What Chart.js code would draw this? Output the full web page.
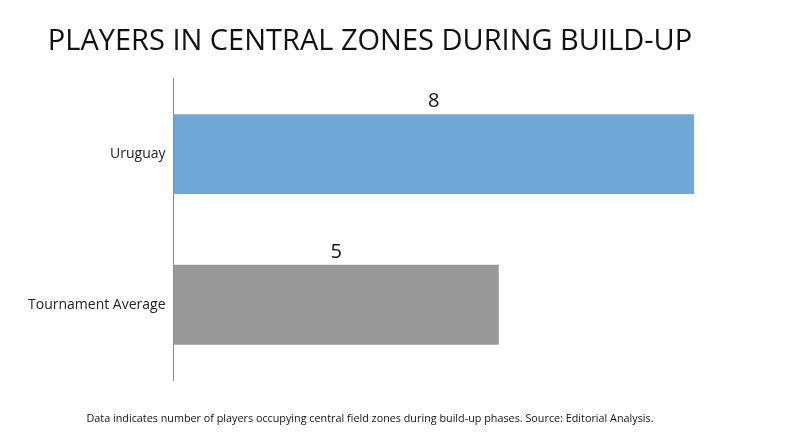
<!DOCTYPE html>
<html><head><meta charset="utf-8">
<script src="https://cdn.jsdelivr.net/npm/chart.js@4/dist/chart.umd.min.js"></script>
<style>html,body{margin:0;padding:0;background:#fff;overflow:hidden}canvas{display:block}</style>
</head><body><canvas id="c" width="800" height="447" style="width:800px;height:447px"></canvas>
<script>
const categories = ["Uruguay", "Tournament Average"];
const values = [8, 5];
const colors = ["#6fa8d6", "#999999"];
const titleText = "PLAYERS IN CENTRAL ZONES DURING BUILD-UP";
const footText = "Data indicates number of players occupying central field zones during build-up phases. Source: Editorial Analysis.";

const labelPlugin = {
  id: 'lbl',
  afterDatasetsDraw(chart) {
    const ctx = chart.ctx;
    const meta = chart.getDatasetMeta(0);
    ctx.save();
    ctx.font = '20px "Open Sans", sans-serif';
    ctx.fillStyle = '#111';
    ctx.textAlign = 'center';
    ctx.textBaseline = 'bottom';
    meta.data.forEach((b, i) => {
      const x = (b.base + b.x) / 2;
      ctx.fillText(String(values[i]), x, b.y - b.height / 2 - 3);
    });
    ctx.restore();
  }
};

new Chart(document.getElementById('c'), {
  type: 'bar',
  data: { labels: categories, datasets: [{ data: values, backgroundColor: colors, categoryPercentage: 0.53, barPercentage: 1 }] },
  options: {
    indexAxis: 'y', responsive: false, maintainAspectRatio: false, animation: false, devicePixelRatio: 1,
    layout: { padding: { left: 20, right: 80, top: 0, bottom: 0 } },
    plugins: {
      legend: { display: false }, tooltip: { enabled: false },
      title: { display: true, text: titleText, color: '#111', font: { size: 29, weight: 'normal', family: '"Open Sans", sans-serif' }, padding: { top: 24, bottom: 20 } },
      subtitle: { display: true, position: 'bottom', text: footText, color: '#111', font: { size: 10.8, family: '"Open Sans", sans-serif' }, padding: { top: 32, bottom: 22 } }
    },
    scales: {
      x: { min: 0, max: 8.4, display: false, grid: { display: false } },
      y: { grid: { display: false, drawTicks: false }, border: { color: '#888' },
           ticks: { color: '#222', padding: 8, font: { size: 14, family: '"Open Sans", sans-serif' } } }
    }
  },
  plugins: [labelPlugin]
});
</script></body></html>
